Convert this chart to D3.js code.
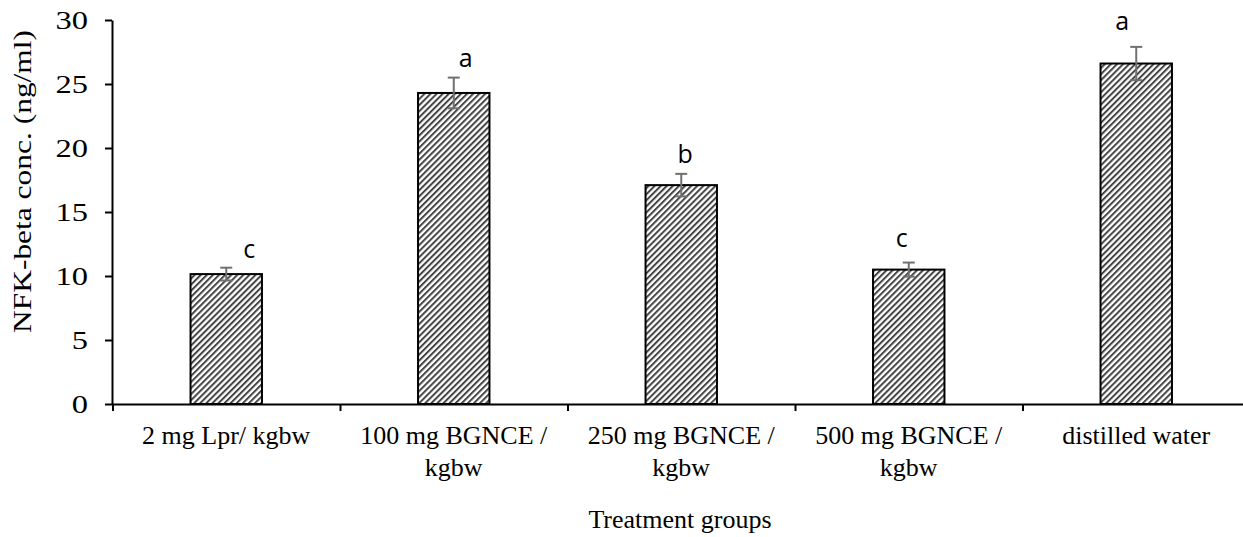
<!DOCTYPE html>
<html>
<head>
<meta charset="utf-8">
<script src="https://cdn.jsdelivr.net/npm/d3@7"></script>
<style>
  body { margin: 0; background: #fff; }
  svg { display: block; }
</style>
</head>
<body>
<svg width="1243" height="537"></svg>
<script>
// data
const categories = ["2 mg Lpr/ kgbw", "100 mg BGNCE / kgbw", "250 mg BGNCE / kgbw", "500 mg BGNCE / kgbw", "distilled water"];
const means = [10.15, 24.3, 17.1, 10.5, 26.6];
const errors = [0.5, 1.2, 0.88, 0.55, 1.3];
const letters = ["c", "a", "b", "c", "a"];
const yTicks = [0, 5, 10, 15, 20, 25, 30];

// small hand nudges for the letters (they were placed by hand in the original)
const letterDx = [23, 12, 4, -7, -14];
const letterDy = [10, 11, 11, 16, 17];

const svg = d3.select("svg");

// hatch pattern for the bars
const defs = svg.append("defs");
const pat = defs.append("pattern")
    .attr("id", "hatch")
    .attr("patternUnits", "userSpaceOnUse")
    .attr("width", 4.3)
    .attr("height", 4.3)
    .attr("patternTransform", "rotate(45)");
pat.append("rect").attr("width", 4.3).attr("height", 4.3).attr("fill", "#fff");
pat.append("line")
    .attr("x1", 1).attr("y1", 0).attr("x2", 1).attr("y2", 4.3)
    .attr("stroke", "#444").attr("stroke-width", 2);

const y = d3.scaleLinear().domain([0, 30]).range([404, 20]);

const x = d3.scaleBand()
    .domain(categories)
    .range([112.5, 1250])
    .paddingInner(0.686)
    .paddingOuter(0.343);

// linear scale over the category slots so the ticks fall between groups
const xSlots = d3.scaleLinear().domain([0, categories.length]).range([112.5, 1250]);

// bars
svg.append("g").selectAll("rect")
    .data(means)
    .join("rect")
    .attr("x", (d, i) => x(categories[i]))
    .attr("y", d => y(d))
    .attr("width", x.bandwidth())
    .attr("height", d => y(0) - y(d))
    .attr("fill", "url(#hatch)")
    .attr("stroke", "#000")
    .attr("stroke-width", 2);

// error bars
const eb = svg.append("g").attr("stroke", "#707070").attr("stroke-width", 2);
means.forEach((m, i) => {
    const cx = x(categories[i]) + x.bandwidth() / 2;
    eb.append("line").attr("x1", cx).attr("x2", cx).attr("y1", y(m - errors[i])).attr("y2", y(m + errors[i]));
    eb.append("line").attr("x1", cx - 6).attr("x2", cx + 6).attr("y1", y(m + errors[i])).attr("y2", y(m + errors[i]));
    eb.append("line").attr("x1", cx - 6).attr("x2", cx + 6).attr("y1", y(m - errors[i])).attr("y2", y(m - errors[i]));
});

// significance letters
svg.append("g").selectAll("text")
    .data(letters)
    .join("text")
    .attr("x", (d, i) => x(categories[i]) + x.bandwidth() / 2 + letterDx[i])
    .attr("y", (d, i) => y(means[i] + errors[i]) - letterDy[i])
    .attr("text-anchor", "middle")
    .attr("font-family", "'Open Sans', sans-serif")
    .attr("font-size", 25)
    .attr("fill", "#000")
    .text(d => d);

// y axis
const yAxis = svg.append("g")
    .attr("transform", "translate(112,0)")
    .call(d3.axisLeft(y).tickValues(yTicks).tickSize(7).tickSizeOuter(0).tickFormat(d3.format("d")));
yAxis.select(".domain").attr("stroke-width", 2);
yAxis.selectAll(".tick line").attr("stroke-width", 2);
yAxis.selectAll(".tick text")
    .attr("x", 0)
    .attr("dy", "0.34em")
    .attr("transform", "translate(-24,0) scale(1.3,1)")
    .attr("font-family", "'Liberation Serif', 'Times New Roman', serif")
    .attr("font-size", 25)
    .attr("fill", "#000");

// x axis
const xAxis = svg.append("g")
    .attr("transform", "translate(0,404)")
    .call(d3.axisBottom(xSlots).ticks(categories.length).tickSize(7).tickSizeOuter(0).tickFormat(""));
xAxis.select(".domain").attr("stroke-width", 2);
xAxis.selectAll(".tick line").attr("stroke-width", 2);

// category labels, wrapped to the slot width
const catLabels = svg.append("g")
    .attr("font-family", "'Liberation Serif', 'Times New Roman', serif")
    .attr("font-size", 26)
    .attr("text-anchor", "middle")
    .attr("fill", "#000");

categories.forEach(c => {
    const t = catLabels.append("text")
        .attr("x", x(c) + x.bandwidth() / 2)
        .attr("y", 444);
    const words = c.split(" ");
    let line = [];
    let tspan = t.append("tspan").attr("x", x(c) + x.bandwidth() / 2).attr("dy", 0);
    words.forEach(w => {
        line.push(w);
        tspan.text(line.join(" "));
        if (tspan.node().getComputedTextLength() > 212 && line.length > 1) {
            line.pop();
            tspan.text(line.join(" "));
            line = [w];
            tspan = t.append("tspan").attr("x", x(c) + x.bandwidth() / 2).attr("dy", 31.5).text(w);
        }
    });
});

// axis titles
svg.append("text")
    .attr("x", 680)
    .attr("y", 528)
    .attr("text-anchor", "middle")
    .attr("font-family", "'Liberation Serif', 'Times New Roman', serif")
    .attr("font-size", 26)
    .text("Treatment groups");

svg.append("text")
    .attr("transform", "translate(31,181.5) rotate(-90) scale(1.21,1)")
    .attr("text-anchor", "middle")
    .attr("font-family", "'Liberation Serif', 'Times New Roman', serif")
    .attr("font-size", 26)
    .text("NFK-beta conc. (ng/ml)");
</script>
</body>
</html>
